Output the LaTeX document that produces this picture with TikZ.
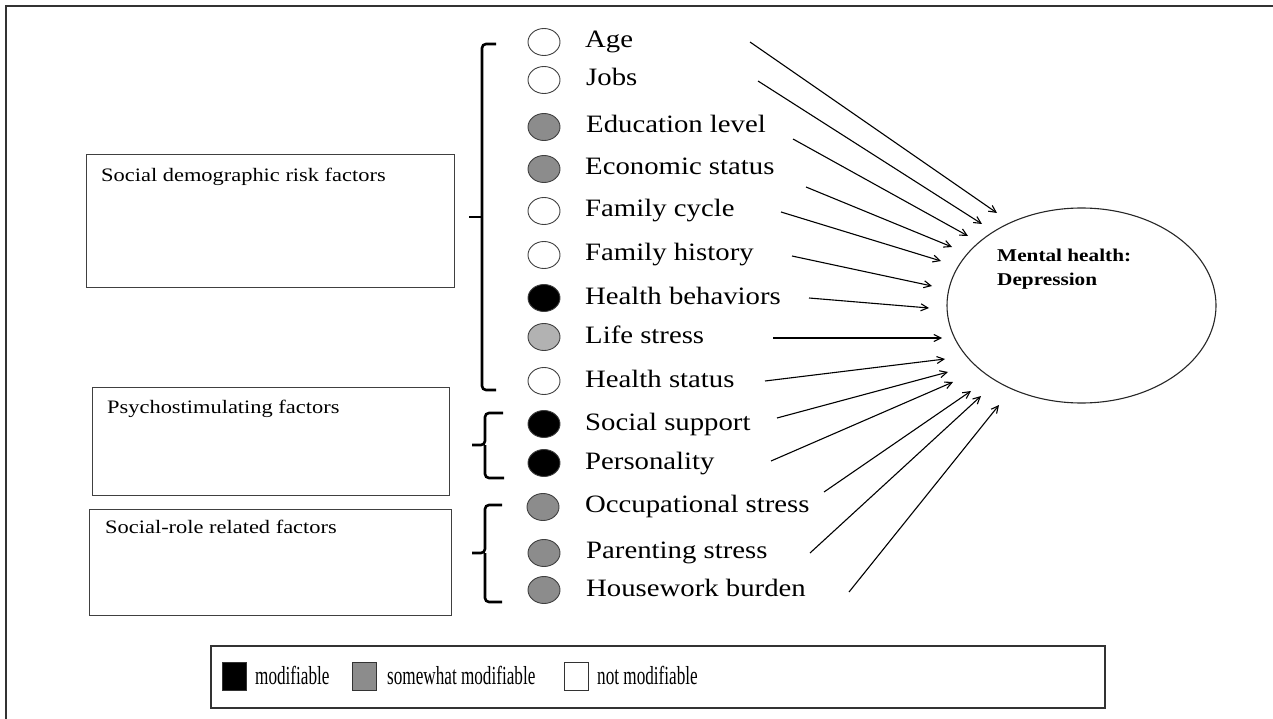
\documentclass[tikz,border=0pt]{standalone}
\usepackage{fontspec}
\setmainfont{Liberation Serif}
\newfontfamily\itemfont{Liberation Serif}[FakeStretch=1.15]
\newfontfamily\boxfont{Liberation Serif}[FakeStretch=1.18]
\newfontfamily\legfont{Liberation Serif}[FakeStretch=0.66]
\usetikzlibrary{shapes.geometric,arrows.meta}
\tikzset{
  dot/.style={ellipse,draw=black!75,line width=0.9pt,minimum width=32pt,minimum height=27pt,inner sep=0pt},
  wdot/.style={dot,fill=white},
  gdot/.style={dot,fill=black!45},
  ldot/.style={dot,fill=black!30},
  bdot/.style={dot,fill=black},
  itemtext/.style={anchor=base west,inner sep=0pt,font=\itemfont\fontsize{25}{29}\selectfont},
  boxtext/.style={anchor=base west,inner sep=0pt,font=\boxfont\fontsize{19}{22}\selectfont},
  legtext/.style={anchor=base west,inner sep=0pt,font=\legfont\fontsize{26}{30}\selectfont},
  factorbox/.style={draw=black!75,line width=1pt,rectangle,inner sep=0pt},
  brack/.style={line width=2.6pt,line cap=butt,rounded corners=4pt},
  arr/.style={line width=1.1pt,-{Straight Barb[length=7pt,width=7pt]}},
  legsq/.style={draw=black!80,line width=0.9pt,minimum width=24pt,minimum height=28pt,inner sep=0pt}
}
\begin{document}
\begin{tikzpicture}[x=1pt,y=-1pt]
\useasboundingbox (0,0) rectangle (1273,719);
% outer frame (top and left visible)
\draw[line width=1.8pt,black!80] (6,719) -- (6,6) -- (1273,6);

% factor boxes
\node[factorbox,minimum width=368pt,minimum height=132pt] (b1) at (270,221) {};
\node[boxtext] (b1t) at (101,182) {Social demographic risk factors};
\node[factorbox,minimum width=357pt,minimum height=108pt] (b2) at (270.5,441) {};
\node[boxtext] (b2t) at (107,413) {Psychostimulating factors};
\node[factorbox,minimum width=362pt,minimum height=106pt] (b3) at (270,562) {};
\node[boxtext] (b3t) at (105,533) {Social-role related factors};

% brackets
\draw[brack] (496,44) -- (482,44) -- (482,390) -- (496,390);
\draw[line width=2.6pt] (469,217) -- (482,217);
\draw[brack] (503,413) -- (485,413) -- (485,445) -- (472,445) (485,445) -- (485,478) -- (504,478);
\draw[brack] (502,505) -- (485,505) -- (485,553) -- (472,553) (485,553) -- (485,602) -- (502,602);

% items
\node[wdot] (c1) at (544,42) {};
\node[itemtext] (t1) at (585,48) {Age};
\node[wdot] (c2) at (544,80) {};
\node[itemtext] (t2) at (586,86) {Jobs};
\node[gdot] (c3) at (544,127) {};
\node[itemtext] (t3) at (586,133) {Education level};
\node[gdot] (c4) at (544,169) {};
\node[itemtext] (t4) at (585,175) {Economic status};
\node[wdot] (c5) at (544,211) {};
\node[itemtext] (t5) at (585,217) {Family cycle};
\node[wdot] (c6) at (544,255) {};
\node[itemtext] (t6) at (585,261) {Family history};
\node[bdot] (c7) at (544,298) {};
\node[itemtext] (t7) at (585,304) {Health behaviors};
\node[ldot] (c8) at (544,337) {};
\node[itemtext] (t8) at (585,343) {Life stress};
\node[wdot] (c9) at (544,381) {};
\node[itemtext] (t9) at (585,387) {Health status};
\node[bdot] (c10) at (544,424) {};
\node[itemtext] (t10) at (585,430) {Social support};
\node[bdot] (c11) at (544,463) {};
\node[itemtext] (t11) at (585,469) {Personality};
\node[gdot] (c12) at (543,507) {};
\node[itemtext] (t12) at (585,512) {Occupational stress};
\node[gdot] (c13) at (544,553) {};
\node[itemtext] (t13) at (586,558) {Parenting stress};
\node[gdot] (c14) at (544,590) {};
\node[itemtext] (t14) at (586,596) {Housework burden};

% outcome
\node[ellipse,draw=black!85,line width=1.1pt,minimum width=269pt,minimum height=195pt,inner sep=0pt] (mh) at (1081.5,305.5) {};
\node[anchor=north west,inner sep=0pt,align=left,font=\boxfont\fontsize{18}{24}\selectfont\bfseries] (mht) at (997,249) {Mental health:\\Depression};

% arrows
\coordinate (s1) at (750,42);   \coordinate (e1) at (997,213);
\coordinate (s2) at (758,81);   \coordinate (e2) at (982,224);
\coordinate (s3) at (793,139);  \coordinate (e3) at (968,236);
\coordinate (s4) at (806,187);  \coordinate (e4) at (952,247);
\coordinate (s5) at (781,212);  \coordinate (e5) at (941,261);
\coordinate (s6) at (792,256);  \coordinate (e6) at (932,286);
\coordinate (s7) at (809,298);  \coordinate (e7) at (929,308);
\coordinate (s8) at (773,338);  \coordinate (e8) at (942,338);
\coordinate (s9) at (765,381);  \coordinate (e9) at (945,359);
\coordinate (s10) at (777,418); \coordinate (e10) at (948,372);
\coordinate (s11) at (771,461); \coordinate (e11) at (953,382);
\coordinate (s12) at (824,492); \coordinate (e12) at (971,391);
\coordinate (s13) at (810,553); \coordinate (e13) at (981,396);
\coordinate (s14) at (849,592); \coordinate (e14) at (999,405);
\foreach \i in {1,...,14} { \draw[arr] (s\i) -- (e\i); }

% legend
\node[draw=black!80,line width=1.1pt,minimum width=894pt,minimum height=62pt,inner sep=0pt] (leg) at (658,677) {};
\node[legsq,fill=black] (lq1) at (234,676) {};
\node[legtext] (lt1) at (255,684) {modifiable};
\node[legsq,fill=black!45] (lq2) at (364.5,676) {};
\node[legtext] (lt2) at (387,684) {somewhat modifiable};
\node[legsq,fill=white] (lq3) at (576,676) {};
\node[legtext] (lt3) at (597,684) {not modifiable};
\end{tikzpicture}
\end{document}
